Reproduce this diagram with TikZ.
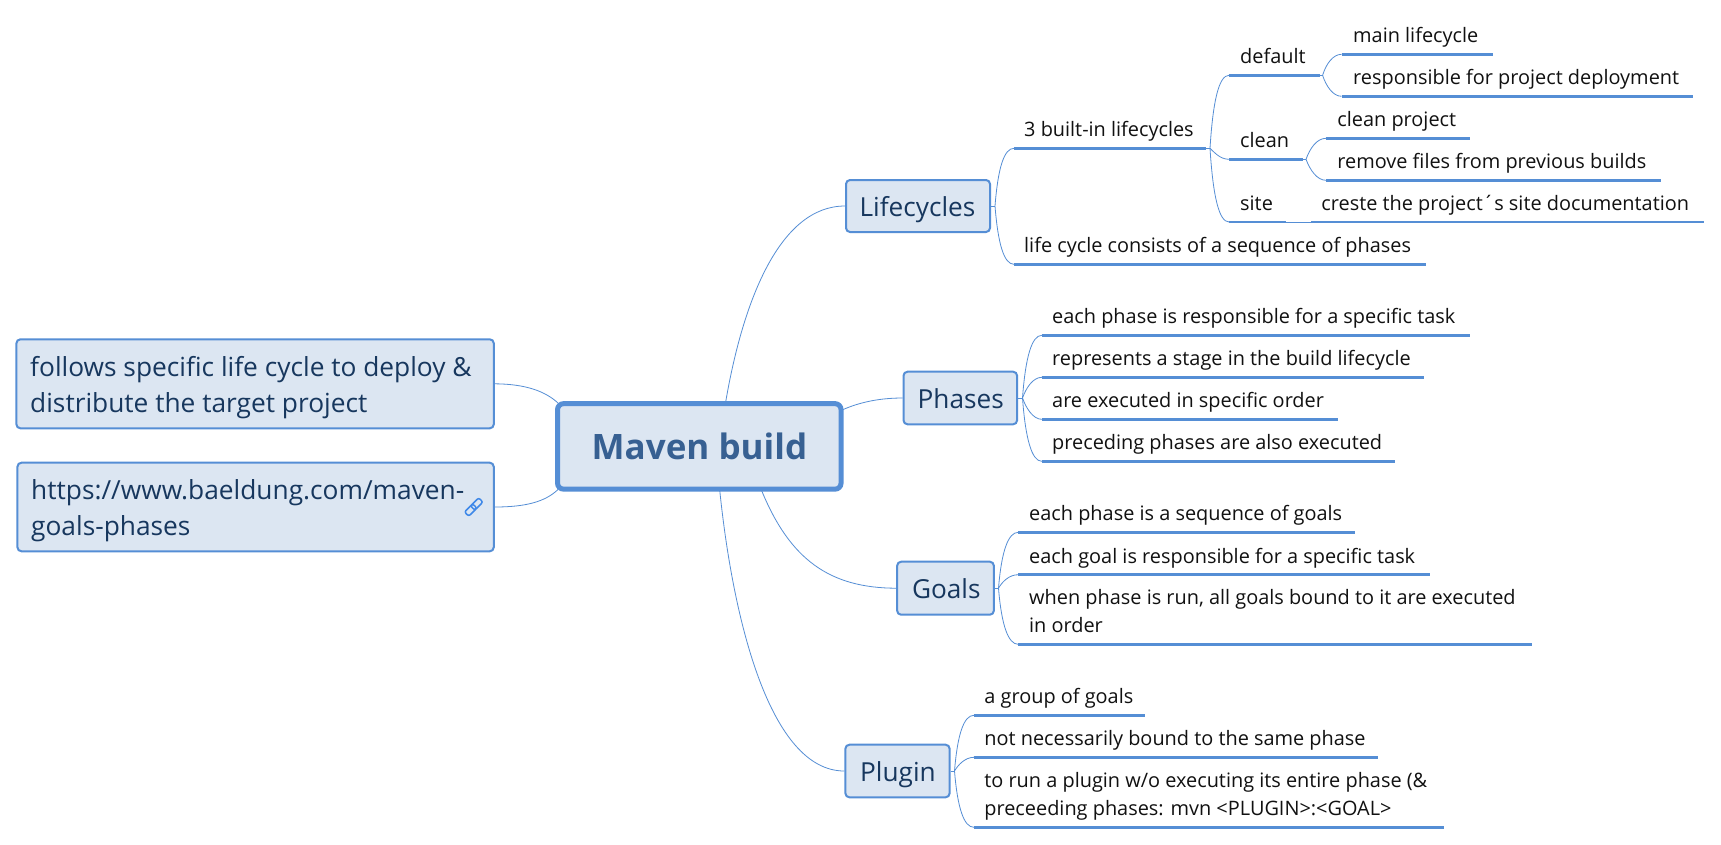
\documentclass[tikz,border=0pt]{standalone}
\usepackage{fontspec}
\setmainfont{Open Sans}
\definecolor{mline}{HTML}{558ED5}
\definecolor{mfill}{HTML}{DCE6F2}
\definecolor{mtext}{HTML}{17375E}
\definecolor{mroot}{HTML}{376092}
\definecolor{mleaf}{HTML}{111111}
\definecolor{mlink}{HTML}{3F88E8}
\tikzset{
  x=1pt,y=-1pt,
  topicbox/.style={draw=mline,fill=mfill,line width=2pt,rounded corners=4pt,inner sep=0pt,text=mtext},
  rootbox/.style={draw=mline,fill=mfill,line width=5pt,rounded corners=6pt,inner sep=0pt,text=mroot},
  boxtext/.style={inner sep=0pt,anchor=base west,text=mtext,font=\fontsize{26.2}{30}\selectfont},
  notetext/.style={inner sep=0pt,anchor=base west,text=mtext,font=\fontsize{26.3}{36}\selectfont},
  leaftext/.style={inner sep=0pt,anchor=base west,text=mleaf,font=\fontsize{19.9}{24}\selectfont},
  rule/.style={draw=mline,line width=2.7pt},
  thin branch/.style={draw=mline,line width=0.8pt},
}
% \leaf{name}{x1}{x2}{y}{textx}{text}
\newcommand{\leaf}[6]{%
  \coordinate (#1-l) at (#2,#4);
  \coordinate (#1-r) at (#3,#4);
  \draw[rule] (#1-l) -- (#1-r);
  \node[leaftext] (#1) at (#5,#4-11.7) {#6};
}
\newcommand{\twolines}[2]{\vbox{\baselineskip=27.7pt\hbox{#1}\hbox{#2}}}
\begin{document}
\begin{tikzpicture}
\useasboundingbox (0,0) rectangle (1721,844);
\fill[white] (0,0) rectangle (1721,844);

% connector ends on the central box
\coordinate (r-up) at (725.5,403);
\coordinate (r-dn) at (719.7,490);
\coordinate (r-go) at (761.4,490);
\coordinate (r-ph) at (842,410);
\coordinate (r-n1) at (558,403);
\coordinate (r-n2) at (558,489.5);

% boxes
\node[rootbox,minimum width=283.5pt,minimum height=85.5pt] (root) at (699.3,446.4) {};
\node[inner sep=0pt,anchor=base west,text=mroot,font=\bfseries\fontsize{35}{40}\selectfont] (roott) at (591.5,459) {Maven build};
\node[topicbox,minimum width=144pt,minimum height=52pt] (life) at (918,206) {};
\node[boxtext] (lifet) at (859.4,216.6) {Lifecycles};
\node[topicbox,minimum width=113.6pt,minimum height=52.6pt] (phases) at (960.3,398) {};
\node[boxtext] (phasest) at (917.5,408.8) {Phases};
\node[topicbox,minimum width=96.7pt,minimum height=53pt] (goals) at (945.5,588.2) {};
\node[boxtext] (goalst) at (911.8,598.1) {Goals};
\node[topicbox,minimum width=104.2pt,minimum height=52.6pt] (plugin) at (897.5,771) {};
\node[boxtext] (plugint) at (860,781.8) {Plugin};
\node[topicbox,minimum width=477.4pt,minimum height=89pt] (note1) at (255.1,383.8) {};
\node[notetext] (note1t) at (30,376) {follows specific life cycle to deploy \&};
\node[notetext] (note1u) at (30,412.7) {distribute the target project};
\node[topicbox,minimum width=476.3pt,minimum height=88.6pt] (note2) at (255.6,507) {};
\node[notetext] (note2t) at (31,499) {https://www.baeldung.com/maven-};
\node[notetext] (note2u) at (31,535) {goals-phases};

% main connectors
\draw[thin branch] (r-up) .. controls (743,300) and (780,206) .. (life.west);
\draw[thin branch] (r-dn) .. controls (733,620) and (770,771) .. (plugin.west);
\draw[thin branch] (r-go) .. controls (790,560) and (830,588) .. (goals.west);
\draw[thin branch] (r-ph) .. controls (860,402) and (880,398) .. (phases.west);
\draw[thin branch] (note1.east) .. controls (525,384) and (545,391) .. (r-n1);
\draw[thin branch] (note2.east) .. controls (525,507) and (545,502) .. (r-n2);

% Lifecycles children
\coordinate (life-s) at (995,206);
\draw[thin branch] (life.east) -- (life-s);
\leaf{builtin}{1014}{1206}{148.3}{1024}{3 built-in lifecycles}
\leaf{sequence}{1014}{1425.6}{264.3}{1024}{life cycle consists of a sequence of phases}
\draw[thin branch] (life-s) .. controls +(3,-38) and +(-10,0) .. (builtin-l);
\draw[thin branch] (life-s) .. controls +(3,38) and +(-10,0) .. (sequence-l);

\coordinate (builtin-s) at (1210,148.3);
\draw[thin branch] (builtin-r) -- (builtin-s);
\leaf{default}{1229}{1320}{75.3}{1240}{default}
\leaf{clean}{1229}{1302.8}{159.3}{1240}{clean}
\leaf{site}{1229}{1286}{222}{1240}{site}
\draw[thin branch] (builtin-s) .. controls +(3,-48) and +(-10,0) .. (default-l);
\draw[thin branch] (builtin-s) .. controls (1214,152) and (1220,159.3) .. (clean-l);
\draw[thin branch] (builtin-s) .. controls +(3,48) and +(-10,0) .. (site-l);

\coordinate (default-s) at (1322.6,75.3);
\draw[thin branch] (default-r) -- (default-s);
\leaf{mainlc}{1341.5}{1492.8}{54.3}{1353}{main lifecycle}
\leaf{deploy}{1341.5}{1692.7}{96.3}{1353}{responsible for project deployment}
\draw[thin branch] (default-s) .. controls (1326,64) and (1333,54.3) .. (mainlc-l);
\draw[thin branch] (default-s) .. controls (1326,86) and (1333,96.3) .. (deploy-l);

\coordinate (clean-s) at (1306,159.3);
\draw[thin branch] (clean-r) -- (clean-s);
\leaf{cleanp}{1326}{1469.6}{138.3}{1337.2}{clean project}
\leaf{remove}{1326}{1660.5}{180.3}{1337.2}{remove files from previous builds}
\draw[thin branch] (clean-s) .. controls (1310,148) and (1317,138.3) .. (cleanp-l);
\draw[thin branch] (clean-s) .. controls (1310,170) and (1317,180.3) .. (remove-l);

\leaf{creste}{1310.8}{1703.5}{222}{1321.2}{creste the project´s site documentation}
\draw[thin branch] (site-r) -- (creste-l);

% Phases children
\coordinate (phases-s) at (1022.5,398);
\draw[thin branch] (phases.east) -- (phases-s);
\leaf{ph1}{1041.8}{1469.7}{335.3}{1052}{each phase is responsible for a specific task}
\leaf{ph2}{1041.8}{1423.5}{377.3}{1052}{represents a stage in the build lifecycle}
\leaf{ph3}{1041.8}{1337.8}{419.3}{1052}{are executed in specific order}
\leaf{ph4}{1041.8}{1395.4}{461.3}{1052}{preceding phases are also executed}
\draw[thin branch] (phases-s) .. controls +(3,-41) and +(-10,0) .. (ph1-l);
\draw[thin branch] (phases-s) .. controls (1026,388) and (1033,377.3) .. (ph2-l);
\draw[thin branch] (phases-s) .. controls (1026,408) and (1033,419.3) .. (ph3-l);
\draw[thin branch] (phases-s) .. controls +(3,41) and +(-10,0) .. (ph4-l);

% Goals children
\coordinate (goals-s) at (998.5,588.2);
\draw[thin branch] (goals.east) -- (goals-s);
\leaf{go1}{1018.2}{1354.7}{532.3}{1029}{each phase is a sequence of goals}
\leaf{go2}{1018.2}{1429.7}{574.7}{1029}{each goal is responsible for a specific task}
\leaf{go3}{1018.2}{1532}{644.3}{1029}{\twolines{when phase is run, all goals bound to it are executed}{in order}}
\draw[thin branch] (goals-s) .. controls +(3,-37) and +(-10,0) .. (go1-l);
\draw[thin branch] (goals-s) .. controls (1002,582) and (1009,574.7) .. (go2-l);
\draw[thin branch] (goals-s) .. controls +(3,37) and +(-10,0) .. (go3-l);

% Plugin children
\coordinate (plugin-s) at (954.5,771);
\draw[thin branch] (plugin.east) -- (plugin-s);
\leaf{pl1}{973.9}{1145}{715.3}{984.2}{a group of goals}
\leaf{pl2}{973.9}{1377.7}{757.3}{984.2}{not necessarily bound to the same phase}
\leaf{pl3}{973.9}{1443.6}{827.3}{984.2}{\twolines{to run a plugin w/o executing its entire phase (\&}{preceeding phases: mvn <PLUGIN>:<GOAL>}}
\draw[thin branch] (plugin-s) .. controls +(3,-37) and +(-10,0) .. (pl1-l);
\draw[thin branch] (plugin-s) .. controls (958,765) and (965,757.3) .. (pl2-l);
\draw[thin branch] (plugin-s) .. controls +(3,37) and +(-10,0) .. (pl3-l);

% link icon
\begin{scope}[shift={(473.7,507)},rotate=45]
\draw[draw=mlink,line width=1.5pt,rounded corners=2pt] (-10,-3) rectangle (1.5,3);
\draw[draw=mlink,line width=1.5pt,rounded corners=2pt] (-1.5,-3) rectangle (10,3);
\end{scope}
\end{tikzpicture}
\end{document}
